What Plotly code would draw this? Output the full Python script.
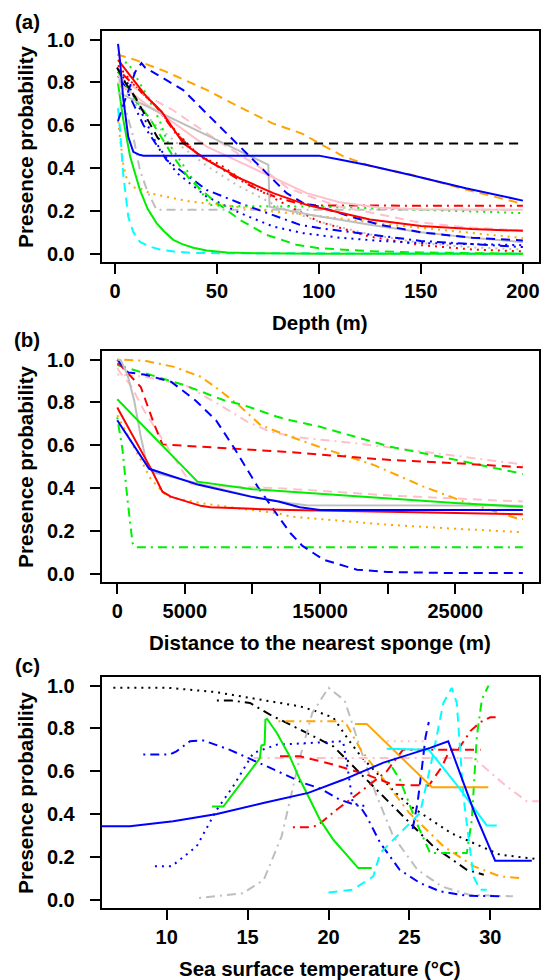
import plotly.graph_objects as go

# ---------------- Panel (a): Depth (m) ----------------
a_black_dashed_x = [1, 5, 10, 14, 18, 21, 24, 200]
a_black_dashed_y = [0.87, 0.80, 0.73, 0.66, 0.59, 0.54, 0.515, 0.515]
a_orange_dashed_x = [1, 10, 25, 45, 60, 77, 92, 100, 112, 125, 145, 172, 200]
a_orange_dashed_y = [0.93, 0.905, 0.85, 0.765, 0.69, 0.61, 0.56, 0.516, 0.455, 0.41, 0.37, 0.30, 0.233]
a_blue_solid_x = [1.5, 2.5, 4, 6.5, 9, 12, 14, 100, 110, 123, 145, 172, 200]
a_blue_solid_y = [0.98, 0.90, 0.73, 0.546, 0.476, 0.462, 0.458, 0.458, 0.44, 0.415, 0.368, 0.306, 0.248]
a_red_solid_x = [1.5, 15.5, 22.9, 33.5, 44.9, 61.3, 77.6, 94, 100, 125, 150, 175, 200]
a_red_solid_y = [0.905, 0.733, 0.663, 0.516, 0.438, 0.352, 0.283, 0.228, 0.215, 0.16, 0.13, 0.115, 0.107]
a_gray_solid_x = [1.5, 75.2, 75.8, 95.6, 125, 150, 175, 200]
a_gray_solid_y = [0.753, 0.415, 0.22, 0.182, 0.135, 0.10, 0.075, 0.054]
a_pink_solid_x = [1.5, 15, 27, 45, 69.5, 94, 110, 130, 150, 175, 200]
a_pink_solid_y = [0.80, 0.70, 0.624, 0.50, 0.391, 0.283, 0.24, 0.215, 0.208, 0.205, 0.205]
a_pink_dashed_x = [1.5, 15, 28.5, 50, 74.4, 84.2, 95.6, 110, 132, 147, 170, 200]
a_pink_dashed_y = [0.83, 0.74, 0.67, 0.53, 0.383, 0.31, 0.267, 0.22, 0.18, 0.15, 0.125, 0.108]
a_green_solid_x = [1.5, 4, 7.4, 12.25, 16, 20.4, 24, 28.6, 33, 38.4, 45, 55, 70, 100, 200]
a_green_solid_y = [0.795, 0.63, 0.455, 0.298, 0.21, 0.143, 0.105, 0.065, 0.045, 0.028, 0.015, 0.006, 0.002, 0.0, 0.0]
a_cyan_dashed_x = [1.5, 2.5, 4, 6.5, 9, 12.3, 16.9, 22, 29, 40, 200]
a_cyan_dashed_y = [0.68, 0.577, 0.376, 0.174, 0.10, 0.055, 0.034, 0.02, 0.01, 0.003, 0.0]
a_green_dashed_x = [1.5, 9, 17.2, 28.6, 36.8, 48.2, 61.3, 74.4, 89, 100, 125, 150, 200]
a_green_dashed_y = [0.85, 0.73, 0.63, 0.453, 0.345, 0.25, 0.158, 0.088, 0.042, 0.026, 0.012, 0.006, 0.0]
a_green_dotted_x = [1.5, 6.5, 15, 22, 25.3, 33, 41.7, 46.6, 55, 100, 150, 200]
a_green_dotted_y = [0.90, 0.89, 0.75, 0.62, 0.53, 0.42, 0.298, 0.228, 0.222, 0.22, 0.205, 0.19]
a_blue_dashed_x = [1.5, 5, 10, 13, 14.7, 20, 33.5, 46.6, 59.7, 72.7, 84.2, 92.3, 100, 115, 130, 150, 175, 200]
a_blue_dashed_y = [0.62, 0.72, 0.85, 0.89, 0.87, 0.84, 0.764, 0.639, 0.516, 0.391, 0.283, 0.236, 0.22, 0.175, 0.135, 0.10, 0.075, 0.062]
a_blue_dotdash_x = [1.5, 5, 10, 14, 18.8, 25.3, 31.9, 44.9, 61.3, 77.6, 90.7, 100, 130, 150, 175, 200]
a_blue_dotdash_y = [0.83, 0.78, 0.68, 0.60, 0.531, 0.438, 0.391, 0.298, 0.236, 0.182, 0.135, 0.12, 0.085, 0.06, 0.045, 0.031]
a_blue_dotted_x = [1.5, 6, 10, 15, 20, 30, 44.9, 61.3, 77.6, 92.3, 110, 130, 150, 175, 200]
a_blue_dotted_y = [0.85, 0.80, 0.72, 0.62, 0.52, 0.38, 0.267, 0.19, 0.127, 0.096, 0.075, 0.06, 0.05, 0.045, 0.04]
a_red_dotdash_x = [1.5, 10, 20, 30, 40, 50, 60, 70, 80, 90, 100, 200]
a_red_dotdash_y = [0.86, 0.78, 0.69, 0.56, 0.47, 0.41, 0.35, 0.30, 0.26, 0.235, 0.225, 0.224]
a_red_dotted_x = [1.5, 10, 20, 30, 42, 51, 60, 70, 82.5, 100, 125, 150, 175, 200]
a_red_dotted_y = [0.88, 0.78, 0.69, 0.57, 0.45, 0.42, 0.36, 0.30, 0.236, 0.15, 0.08, 0.04, 0.02, 0.011]
a_orange_dotted_x = [1.5, 2.5, 4, 6, 9, 12.25, 17, 28.6, 36.7, 53.1, 77.6, 94, 110, 130, 150, 175, 200]
a_orange_dotted_y = [0.62, 0.55, 0.42, 0.34, 0.31, 0.306, 0.283, 0.259, 0.244, 0.228, 0.197, 0.182, 0.165, 0.14, 0.12, 0.095, 0.073]
a_gray_dotdash_x = [1.5, 5, 9, 12.25, 16, 20.4, 200]
a_gray_dotdash_y = [0.85, 0.68, 0.546, 0.39, 0.29, 0.205, 0.205]
a_gray_dotted_x = [1.5, 10, 20, 30, 45, 60, 80, 100, 125, 150, 175, 200]
a_gray_dotted_y = [0.80, 0.70, 0.60, 0.52, 0.41, 0.32, 0.22, 0.15, 0.09, 0.05, 0.03, 0.02]

# ---------------- Panel (b): Distance to the nearest sponge (m) ----------------
b_blue_dashed_x = [0, 800, 2000, 4000, 5770, 7300, 8590, 10380, 11920, 12800, 13700, 15270, 17730, 20000, 25000, 30000]
b_blue_dashed_y = [1.0, 0.94, 0.93, 0.896, 0.81, 0.717, 0.593, 0.407, 0.267, 0.19, 0.13, 0.065, 0.019, 0.008, 0.003, 0.003]
b_orange_dotdash_x = [0, 2000, 4200, 6170, 7500, 9120, 10600, 11800, 12800, 15270, 18960, 22650, 25600, 29540, 30000]
b_orange_dotdash_y = [1.0, 0.995, 0.966, 0.92, 0.86, 0.78, 0.694, 0.663, 0.64, 0.585, 0.508, 0.407, 0.337, 0.259, 0.255]
b_pink_dotdash_x = [0, 2000, 5060, 7400, 9620, 11330, 13300, 17700, 22650, 27570, 30000]
b_pink_dotdash_y = [0.93, 0.92, 0.88, 0.795, 0.71, 0.663, 0.637, 0.609, 0.57, 0.531, 0.51]
b_green_dashed_x = [0, 2970, 5000, 7890, 9360, 11830, 12800, 15000, 20200, 25100, 30000]
b_green_dashed_y = [0.975, 0.92, 0.88, 0.81, 0.787, 0.733, 0.717, 0.686, 0.593, 0.531, 0.466]
b_red_dashed_x = [0, 140, 1740, 2720, 3340, 6170, 12300, 20200, 25100, 30000]
b_red_dashed_y = [0.98, 0.98, 0.872, 0.70, 0.604, 0.593, 0.57, 0.531, 0.516, 0.497]
b_pink_dashed_x = [0, 260, 1000, 2000, 3220, 4450, 5430, 6500, 11830, 20200, 25000, 30000]
b_pink_dashed_y = [0.96, 0.935, 0.88, 0.76, 0.64, 0.516, 0.42, 0.41, 0.40, 0.365, 0.35, 0.337]
b_green_solid_x = [0, 5930, 10000, 12800, 20200, 25000, 30000]
b_green_solid_y = [0.815, 0.43, 0.395, 0.383, 0.353, 0.33, 0.313]
b_red_solid_x = [0, 2480, 3340, 3960, 6170, 6900, 10000, 12800, 20000, 25000, 30000]
b_red_solid_y = [0.776, 0.492, 0.383, 0.36, 0.317, 0.31, 0.303, 0.298, 0.29, 0.285, 0.278]
b_blue_solid_x = [0, 2360, 6020, 9870, 11920, 13500, 15000, 30000]
b_blue_solid_y = [0.717, 0.49, 0.415, 0.36, 0.337, 0.31, 0.298, 0.298]
b_gray_solid_x = [0, 260, 750, 1250, 1740, 2240, 2720, 5930, 10000, 12800, 14000, 30000]
b_gray_solid_y = [1.0, 0.997, 0.93, 0.81, 0.64, 0.50, 0.472, 0.422, 0.36, 0.329, 0.32, 0.318]
b_orange_dotted_x = [0, 1000, 1740, 2500, 3710, 6170, 9620, 11830, 12800, 20200, 25000, 30000]
b_orange_dotted_y = [0.74, 0.62, 0.53, 0.44, 0.36, 0.33, 0.30, 0.283, 0.267, 0.228, 0.21, 0.194]
b_green_dotdash_x = [0, 390, 760, 1130, 1370, 30000]
b_green_dotdash_y = [0.73, 0.578, 0.345, 0.143, 0.124, 0.124]

# ---------------- Panel (c): Sea surface temperature (°C) ----------------
c_black_dotted_x = [6.7, 10, 13, 16, 18.24, 19.25, 20.3, 21.3, 22, 23, 24, 25, 26, 26.9, 27.6, 28.95, 30.6, 32.9, 33.1]
c_black_dotted_y = [0.99, 0.99, 0.97, 0.93, 0.903, 0.88, 0.85, 0.74, 0.67, 0.59, 0.51, 0.44, 0.39, 0.343, 0.31, 0.265, 0.21, 0.19, 0.19]
c_black_dotdash_x = [13.1, 14, 15.15, 16.38, 18.5, 20.3, 22.36, 24.42, 26.48, 28.55, 29.6]
c_black_dotdash_y = [0.93, 0.93, 0.919, 0.864, 0.785, 0.716, 0.56, 0.405, 0.249, 0.14, 0.117]
c_gray_dotdash_x = [12.0, 14.7, 16.0, 17.1, 18.2, 19.0, 20.0, 21.0, 22.0, 22.9, 24.0, 25.5, 27.0, 28.7, 31.4]
c_gray_dotdash_y = [0.008, 0.03, 0.093, 0.296, 0.654, 0.872, 0.99, 0.93, 0.70, 0.50, 0.296, 0.14, 0.062, 0.023, 0.016]
c_orange_dotdash_x = [16.9, 21.0, 22.0, 23.4, 25.0, 27.1, 29.0, 30.6, 31.9]
c_orange_dotdash_y = [0.833, 0.833, 0.70, 0.56, 0.405, 0.25, 0.156, 0.109, 0.101]
c_orange_solid_x = [21.64, 22.36, 26.4, 29.88]
c_orange_solid_y = [0.821, 0.821, 0.525, 0.525]
c_cyan_solid_x = [23.6, 26.2, 28.1, 29.78, 30.4]
c_cyan_solid_y = [0.705, 0.70, 0.52, 0.347, 0.347]
c_cyan_dashed_x = [20.0, 21.5, 22.77, 23.2, 24.4, 25.66, 26.48, 27.1, 27.62, 27.93, 28.34, 28.96, 29.37, 29.78]
c_cyan_dashed_y = [0.034, 0.047, 0.109, 0.218, 0.31, 0.405, 0.685, 0.919, 0.989, 0.919, 0.483, 0.109, 0.047, 0.047]
c_green_dotdash_x = [23.7, 24.42, 25.45, 26.28, 28.55, 28.86, 29.17, 29.48, 29.89]
c_green_dotdash_y = [0.646, 0.56, 0.358, 0.218, 0.218, 0.374, 0.763, 0.935, 1.0]
c_red_dashed_x = [17.0, 18.24, 20.3, 22.36, 24.0, 26.2, 27.0, 27.5, 29.4]
c_red_dashed_y = [0.67, 0.67, 0.631, 0.584, 0.537, 0.533, 0.62, 0.70, 0.70]
c_red_dotdash_x = [17.8, 18.7, 19.3, 20.5, 22.15, 23.6, 24.6, 28.0, 28.8, 29.4, 30.0, 30.4]
c_red_dotdash_y = [0.338, 0.338, 0.345, 0.42, 0.514, 0.60, 0.70, 0.70, 0.79, 0.83, 0.852, 0.852]
c_blue_dotdash_x = [8.55, 10.2, 10.6, 11.44, 12.26, 13.9, 16.18, 18.44, 19.47, 20.7, 21.95, 22.36, 23.2, 24.4, 25.66, 26.9, 28.55, 30.6]
c_blue_dotdash_y = [0.678, 0.678, 0.693, 0.74, 0.744, 0.70, 0.623, 0.545, 0.52, 0.467, 0.436, 0.389, 0.265, 0.14, 0.078, 0.039, 0.019, 0.016]
c_blue_dotted_x = [9.27, 10.3, 11.85, 13.09, 14.1, 15.35, 16.8, 18.86, 20.9, 21.2, 21.5, 22.3]
c_blue_dotted_y = [0.156, 0.156, 0.249, 0.42, 0.529, 0.685, 0.724, 0.732, 0.74, 0.607, 0.45, 0.436]
c_blue_dashed_x = [25.2, 25.5, 25.75, 26.0, 26.2]
c_blue_dashed_y = [0.33, 0.45, 0.60, 0.76, 0.83]
c_blue_solid_x = [6.0, 7.72, 10.4, 13.1, 15.97, 18.75, 20.9, 23.4, 26.28, 27.4, 28.96, 30.3, 32.57]
c_blue_solid_y = [0.343, 0.343, 0.366, 0.40, 0.452, 0.499, 0.56, 0.64, 0.709, 0.74, 0.42, 0.182, 0.182]
c_green_solid_x = [12.8, 13.5, 15.75, 15.85, 16.05, 16.1, 16.2, 16.8, 17.6, 18.24, 18.86, 19.47, 20.3, 21.84, 22.67]
c_green_solid_y = [0.435, 0.435, 0.66, 0.72, 0.725, 0.84, 0.845, 0.78, 0.67, 0.56, 0.467, 0.374, 0.28, 0.148, 0.148]
c_pink_dotdash_x = [14.94, 28.96, 29.57, 31.0, 32.26, 33.5]
c_pink_dotdash_y = [0.662, 0.662, 0.623, 0.53, 0.46, 0.46]
c_pink_dotted_x = [23.6, 26.0]
c_pink_dotted_y = [0.74, 0.74]

# ---------------- Axis ticks ----------------
y_ticks = [0.0, 0.2, 0.4, 0.6, 0.8, 1.0]
y_ticklabels = ["0.0", "0.2", "0.4", "0.6", "0.8", "1.0"]
a_xticks = [0, 50, 100, 150, 200]
a_xticklabels = ["0", "50", "100", "150", "200"]
b_xticks = [0, 5000, 10000, 15000, 20000, 25000, 30000]
b_xticklabels = ["0", "5000", "", "15000", "", "25000", ""]
c_xticks = [10, 15, 20, 25, 30]
c_xticklabels = ["10", "15", "20", "25", "30"]

COLORS = {"black": "#000000", "red": "#FF0000", "green": "#00EE00", "blue": "#0000FF",
          "cyan": "#00FFFF", "orange": "#FFA500", "pink": "#FFC0CB", "gray": "#BEBEBE"}
DASHES = {"solid": "solid", "dashed": "9px,6px", "dotted": "2px,5px", "dotdash": "2px,5px,9px,5px"}

panel_a = [
    (a_gray_dotted_x, a_gray_dotted_y, "gray", "dotted"),
    (a_gray_dotdash_x, a_gray_dotdash_y, "gray", "dotdash"),
    (a_orange_dotted_x, a_orange_dotted_y, "orange", "dotted"),
    (a_red_dotted_x, a_red_dotted_y, "red", "dotted"),
    (a_red_dotdash_x, a_red_dotdash_y, "red", "dotdash"),
    (a_blue_dotted_x, a_blue_dotted_y, "blue", "dotted"),
    (a_blue_dotdash_x, a_blue_dotdash_y, "blue", "dotdash"),
    (a_green_dotted_x, a_green_dotted_y, "green", "dotted"),
    (a_green_dashed_x, a_green_dashed_y, "green", "dashed"),
    (a_cyan_dashed_x, a_cyan_dashed_y, "cyan", "dashed"),
    (a_green_solid_x, a_green_solid_y, "green", "solid"),
    (a_pink_dashed_x, a_pink_dashed_y, "pink", "dashed"),
    (a_pink_solid_x, a_pink_solid_y, "pink", "solid"),
    (a_gray_solid_x, a_gray_solid_y, "gray", "solid"),
    (a_blue_dashed_x, a_blue_dashed_y, "blue", "dashed"),
    (a_red_solid_x, a_red_solid_y, "red", "solid"),
    (a_orange_dashed_x, a_orange_dashed_y, "orange", "dashed"),
    (a_black_dashed_x, a_black_dashed_y, "black", "dashed"),
    (a_blue_solid_x, a_blue_solid_y, "blue", "solid"),
]
panel_b = [
    (b_green_dotdash_x, b_green_dotdash_y, "green", "dotdash"),
    (b_orange_dotted_x, b_orange_dotted_y, "orange", "dotted"),
    (b_pink_dashed_x, b_pink_dashed_y, "pink", "dashed"),
    (b_pink_dotdash_x, b_pink_dotdash_y, "pink", "dotdash"),
    (b_orange_dotdash_x, b_orange_dotdash_y, "orange", "dotdash"),
    (b_green_dashed_x, b_green_dashed_y, "green", "dashed"),
    (b_red_dashed_x, b_red_dashed_y, "red", "dashed"),
    (b_blue_dashed_x, b_blue_dashed_y, "blue", "dashed"),
    (b_gray_solid_x, b_gray_solid_y, "gray", "solid"),
    (b_green_solid_x, b_green_solid_y, "green", "solid"),
    (b_red_solid_x, b_red_solid_y, "red", "solid"),
    (b_blue_solid_x, b_blue_solid_y, "blue", "solid"),
]
panel_c = [
    (c_black_dotted_x, c_black_dotted_y, "black", "dotted"),
    (c_black_dotdash_x, c_black_dotdash_y, "black", "dotdash"),
    (c_gray_dotdash_x, c_gray_dotdash_y, "gray", "dotdash"),
    (c_pink_dotdash_x, c_pink_dotdash_y, "pink", "dotdash"),
    (c_pink_dotted_x, c_pink_dotted_y, "pink", "dotted"),
    (c_orange_dotdash_x, c_orange_dotdash_y, "orange", "dotdash"),
    (c_blue_dotted_x, c_blue_dotted_y, "blue", "dotted"),
    (c_blue_dotdash_x, c_blue_dotdash_y, "blue", "dotdash"),
    (c_red_dashed_x, c_red_dashed_y, "red", "dashed"),
    (c_red_dotdash_x, c_red_dotdash_y, "red", "dotdash"),
    (c_green_dotdash_x, c_green_dotdash_y, "green", "dotdash"),
    (c_cyan_dashed_x, c_cyan_dashed_y, "cyan", "dashed"),
    (c_blue_dashed_x, c_blue_dashed_y, "blue", "dashed"),
    (c_orange_solid_x, c_orange_solid_y, "orange", "solid"),
    (c_cyan_solid_x, c_cyan_solid_y, "cyan", "solid"),
    (c_green_solid_x, c_green_solid_y, "green", "solid"),
    (c_blue_solid_x, c_blue_solid_y, "blue", "solid"),
]

FONT = "Liberation Sans, Arial, Helvetica, sans-serif"
W, H = 545, 980

fig = go.Figure()
for k, panel in enumerate([panel_a, panel_b, panel_c], start=1):
    suffix = "" if k == 1 else str(k)
    for xs, ys, col, lt in panel:
        fig.add_trace(go.Scatter(x=xs, y=ys, mode="lines", xaxis="x" + suffix, yaxis="y" + suffix,
                                 line=dict(color=COLORS[col], width=2, dash=DASHES[lt]),
                                 hoverinfo="skip", showlegend=False))

xdom = [101.7 / W, 538.8 / W]
boxes = [(31, 262.3), (351, 582.3), (677, 908.3)]
xranges = [[-6.5, 207.8], [-1150, 31180], [5.98, 33.0]]
xtv = [(a_xticks, a_xticklabels), (b_xticks, b_xticklabels), (c_xticks, c_xticklabels)]
tickfont = dict(family=FONT, size=20, color="black", weight="bold")

layout = dict(width=W, height=H, margin=dict(l=0, r=0, t=0, b=0), template="none",
              paper_bgcolor="white", plot_bgcolor="white", showlegend=False)
for k in range(3):
    suffix = "" if k == 0 else str(k + 1)
    top, bot = boxes[k]
    ydom = [1 - bot / H, 1 - top / H]
    layout["xaxis" + suffix] = dict(domain=xdom, range=xranges[k], tickvals=xtv[k][0], ticktext=xtv[k][1],
                                    ticks="outside", ticklen=10, tickwidth=2, tickcolor="black",
                                    showline=True, linecolor="black", linewidth=2, mirror=True,
                                    showgrid=False, zeroline=False, tickfont=tickfont, automargin=False,
                                    anchor="y" + suffix, ticklabelstandoff=0)
    layout["yaxis" + suffix] = dict(domain=ydom, range=[-0.04, 1.04], tickvals=y_ticks, ticktext=y_ticklabels,
                                    ticks="outside", ticklen=10, tickwidth=2, tickcolor="black",
                                    showline=True, linecolor="black", linewidth=2, mirror=True,
                                    showgrid=False, zeroline=False, tickfont=tickfont, automargin=False,
                                    anchor="x" + suffix, ticklabelstandoff=11)
fig.update_layout(**layout)

panel_labels = ["(a)", "(b)", "(c)"]
label_y = [21, 340, 665]
xtitles = ["Depth (m)", "Distance to the nearest sponge (m)", "Sea surface temperature (°C)"]
tfont = dict(family=FONT, size=20.5, color="black", weight="bold")
for k in range(3):
    top, bot = boxes[k]
    fig.add_annotation(text=panel_labels[k], x=27 / W, y=1 - label_y[k] / H, xref="paper", yref="paper",
                       showarrow=False, font=tfont, xanchor="center", yanchor="middle")
    fig.add_annotation(text=xtitles[k], x=320 / W, y=1 - (bot + 60) / H, xref="paper", yref="paper",
                       showarrow=False, font=tfont, xanchor="center", yanchor="middle")
    fig.add_annotation(text="Presence probability", x=26 / W, y=1 - ((top + bot) / 2) / H,
                       xref="paper", yref="paper", textangle=-90,
                       showarrow=False, font=tfont, xanchor="center", yanchor="middle")

fig.write_html("out.html", config={"displayModeBar": False},
               post_script="document.body.style.margin='0';document.body.style.padding='0';document.body.style.overflow='hidden';")
